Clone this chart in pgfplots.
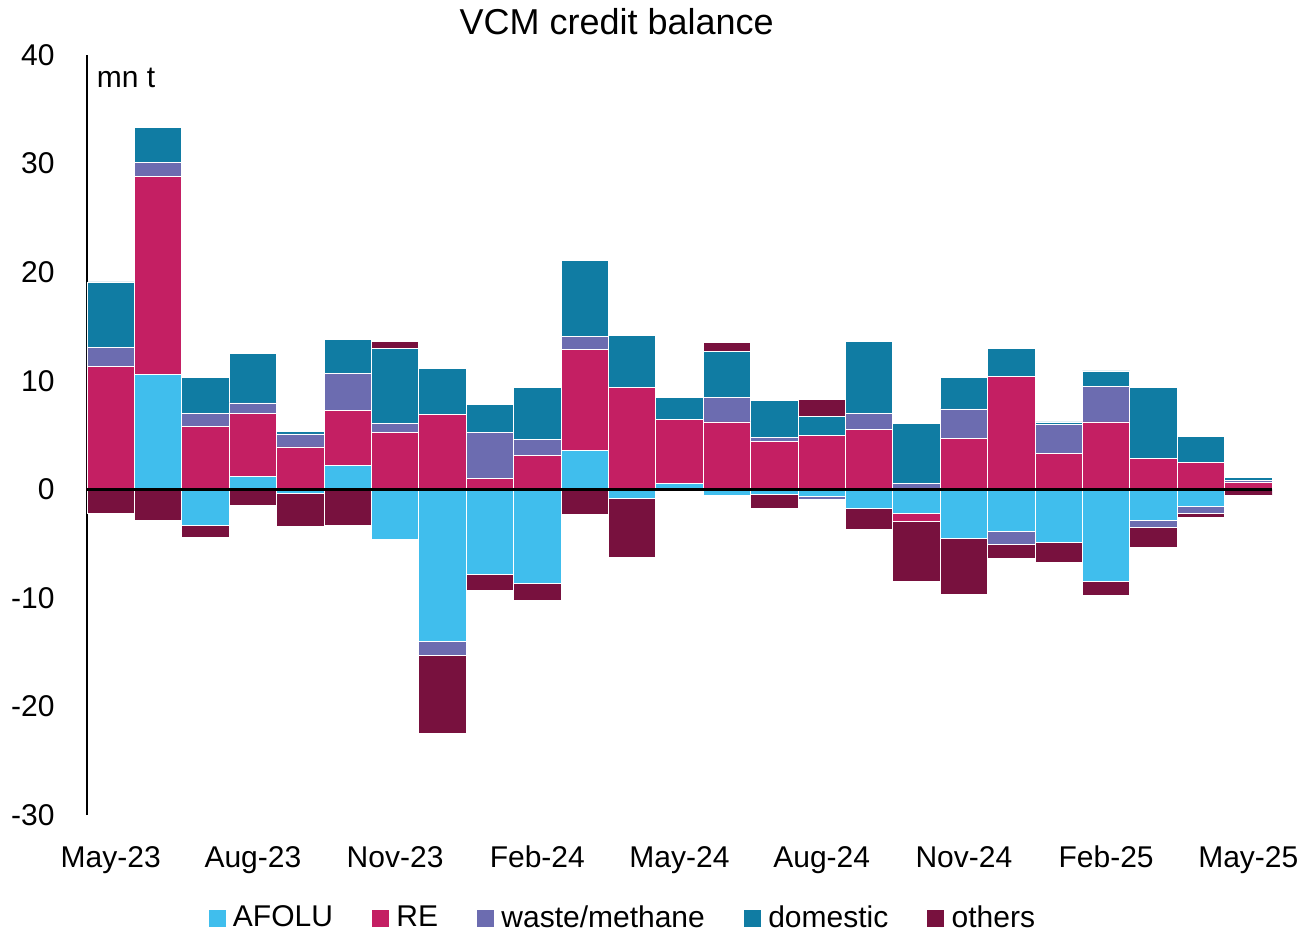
\documentclass[border=0pt]{standalone}
\usepackage{pgfplots}
\pgfplotsset{compat=1.18}
\usepackage{pgfplotstable}
\usepackage{fontspec}
\setmainfont{Liberation Sans}
\definecolor{cAF}{RGB}{64,190,237}
\definecolor{cRE}{RGB}{196,31,99}
\definecolor{cWA}{RGB}{108,108,176}
\definecolor{cDO}{RGB}{16,124,163}
\definecolor{cOT}{RGB}{120,17,62}

% positive parts (Excel stacks positives and negatives separately)
\pgfplotstableread{
x af re wa do ot
0 0 11.3 1.8 6.0 0
1 10.6 18.2 1.3 3.2 0
2 0 5.8 1.2 3.3 0
3 1.2 5.8 0.95 4.6 0
4 0 3.9 1.2 0.2 0
5 2.2 5.1 3.4 3.1 0
6 0 5.2 0.85 6.9 0.65
7 0 6.9 0 4.2 0
8 0 1.0 4.2 2.6 0
9 0 3.1 1.5 4.8 0
10 3.6 9.3 1.2 7.0 0
11 0 9.4 0 4.8 0
12 0.55 5.9 0 2.0 0.1
13 0 6.2 2.3 4.2 0.85
14 0 4.4 0.35 3.4 0
15 0 5.0 0 1.75 1.5
16 0 5.5 1.5 6.6 0
17 0 0 0.5 5.6 0
18 0 4.7 2.7 2.9 0
19 0 10.4 0 2.6 0
20 0 3.3 2.7 0.2 0
21 0 6.2 3.25 1.45 0
22 0 2.8 0 6.6 0
23 0 2.5 0 2.4 0
24 0.1 0.5 0.18 0.34 0
}\posdata

% negative parts
\pgfplotstableread{
x af re wa do ot
0 0 0 0 0 -2.2
1 0 0 0 0 -2.9
2 -3.3 0 0 0 -1.1
3 0 0 0 0 -1.5
4 -0.4 0 0 0 -3.0
5 0 0 0 0 -3.3
6 -4.6 0 0 0 0
7 -14.0 0 -1.3 0 -7.2
8 -7.8 0 0 0 -1.5
9 -8.7 0 0 0 -1.5
10 0 0 0 0 -2.3
11 -0.8 0 0 0 -5.5
12 0 0 0 0 0
13 -0.55 0 0 0 0
14 -0.5 0 0 0 -1.3
15 -0.7 0 -0.25 0 0
16 -1.8 0 0 0 -1.9
17 -2.2 -0.75 0 0 -5.5
18 -4.5 0 0 0 -5.2
19 -3.9 0 -1.2 0 -1.25
20 -4.9 0 0 0 -1.8
21 -8.5 0 0 0 -1.3
22 -2.85 0 -0.65 0 -1.85
23 -1.6 0 -0.6 0 -0.35
24 0 0 0 0 -0.55
}\negdata

\pgfplotsset{
  frame/.style={
    scale only axis, width=592.5pt, height=380pt,
    at={(43.5pt,59.5pt)}, anchor=south west,
    xmin=-0.5, xmax=24.5, ymin=-30, ymax=40,
  },
  common/.style={frame,
    ybar stacked, bar width=1,
    every axis plot/.append style={draw=white, line width=0.4pt},
  },
}
\newcommand{\lbl}{\fontsize{15}{18}\selectfont}

\begin{document}
\begin{tikzpicture}
\useasboundingbox (0,0) rectangle (652pt,467pt);
\begin{axis}[common, clip=false,
  axis x line*=bottom, axis y line*=left,
  x axis line style={draw=none},
  y axis line style={-, line width=1pt, black},
  major tick length=0pt,
  xtick={0,3,...,24},
  xticklabels={May-23,Aug-23,Nov-23,Feb-24,May-24,Aug-24,Nov-24,Feb-25,May-25},
  ytick={-30,-20,-10,0,10,20,30,40},
  yticklabels={-30,-20,-10,0,10,20,30,40},
  tick label style={font=\lbl, text=black},
  xticklabel style={anchor=base, yshift=-26.4pt},
  yticklabel style={anchor=east, inner sep=0pt, xshift=-16pt},
  legend style={at={(0.453,0)}, anchor=center, yshift=-51.5pt, draw=none,
    font=\lbl, legend columns=5,
    /tikz/every even column/.append style={column sep=17.5pt}},
  legend image code/.code={\path[#1, draw=none] (0pt,-4.25pt) rectangle (8.5pt,4.25pt); \path (10pt,0pt);},
]
\addplot[fill=cAF] table[x=x,y=af]{\posdata};
\addplot[fill=cRE] table[x=x,y=re]{\posdata};
\addplot[fill=cWA] table[x=x,y=wa]{\posdata};
\addplot[fill=cDO] table[x=x,y=do]{\posdata};
\addplot[fill=cOT] table[x=x,y=ot]{\posdata};
\legend{AFOLU,RE,waste/methane,domestic,others}
\node[font=\fontsize{18}{22}\selectfont] at (rel axis cs:0.447,1.0434) {VCM credit balance};
\node[font=\lbl, anchor=west, inner sep=0pt] at (rel axis cs:0.008,0.9697) {mn t};
\end{axis}
\begin{axis}[common, hide axis]
\addplot[fill=cAF] table[x=x,y=af]{\negdata};
\addplot[fill=cRE] table[x=x,y=re]{\negdata};
\addplot[fill=cWA] table[x=x,y=wa]{\negdata};
\addplot[fill=cDO] table[x=x,y=do]{\negdata};
\addplot[fill=cOT] table[x=x,y=ot]{\negdata};
\end{axis}
\begin{axis}[frame, hide axis, clip=false]
\addplot[black, line width=1.5pt, no marks] coordinates {(-0.5,0) (24.5,0)};
\end{axis}
\end{tikzpicture}
\end{document}
